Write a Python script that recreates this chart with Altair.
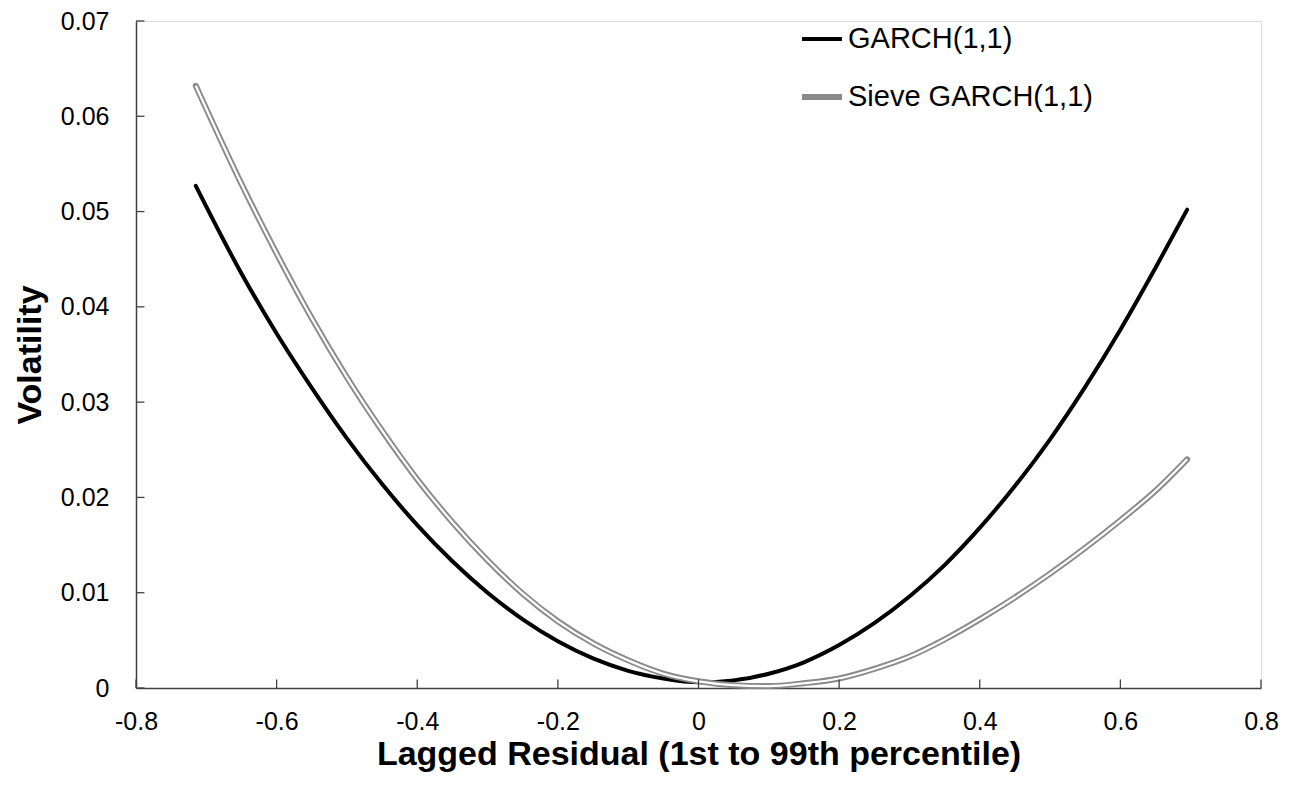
import altair as alt
import pandas as pd

# ---- data ----
x_vals = [-0.715, -0.65, -0.6, -0.55, -0.5, -0.45, -0.4, -0.35, -0.3, -0.25, -0.2, -0.15,
          -0.1, -0.05, 0.0, 0.05, 0.1, 0.15, 0.2, 0.25, 0.3, 0.35, 0.4, 0.45, 0.5, 0.55,
          0.6, 0.65, 0.695]
garch = [0.0527, 0.0435, 0.0372, 0.0315, 0.0262, 0.0214, 0.0171, 0.0133, 0.0100, 0.0072,
         0.0049, 0.0031, 0.0018, 0.0010, 0.0006, 0.0008, 0.0015, 0.0027, 0.0045, 0.0068,
         0.0096, 0.0129, 0.0168, 0.0212, 0.0261, 0.0316, 0.0376, 0.0441, 0.0502]
sieve = [0.0632, 0.0529, 0.0456, 0.0388, 0.0326, 0.0270, 0.0219, 0.0174, 0.0134, 0.0099,
         0.0070, 0.0047, 0.0029, 0.0015, 0.0007, 0.0003, 0.0002, 0.0005, 0.0010, 0.0020,
         0.0033, 0.0051, 0.0072, 0.0095, 0.0120, 0.0147, 0.0176, 0.0207, 0.0240]
series_names = ["GARCH(1,1)", "Sieve GARCH(1,1)"]
x_ticks = [-0.8, -0.6, -0.4, -0.2, 0.0, 0.2, 0.4, 0.6, 0.8]
y_ticks = [0.0, 0.01, 0.02, 0.03, 0.04, 0.05, 0.06, 0.07]

df = pd.DataFrame({
    "x": x_vals * 2,
    "y": garch + sieve,
    "series": [series_names[0]] * len(x_vals) + [series_names[1]] * len(x_vals),
})
df_sieve = df[df["series"] == series_names[1]]

FONT = "Liberation Sans"
AXIS_COLOR = "#404040"

xscale = alt.Scale(domain=[-0.8, 0.8], nice=False, zero=False)
yscale = alt.Scale(domain=[0, 0.07], nice=False)

x_enc = alt.X(
    "x:Q", scale=xscale,
    axis=alt.Axis(
        title="Lagged Residual (1st to 99th percentile)",
        values=x_ticks, ticks=False, grid=False,
        labelExpr="replace(format(datum.value, '.1~f'), '\u2212', '-')",
        labelFont=FONT, labelFontSize=25, labelColor="black", labelPadding=21,
        titleFont=FONT, titleFontSize=34, titleFontWeight="bold", titleColor="black",
        titlePadding=3, domainColor=AXIS_COLOR, domainWidth=1.5, labelFlush=False,
    ),
)
y_enc = alt.Y(
    "y:Q", scale=yscale,
    axis=alt.Axis(
        title="Volatility",
        values=y_ticks, ticks=False, grid=False, format=".2~f",
        labelFont=FONT, labelFontSize=25, labelColor="black", labelPadding=27,
        titleFont=FONT, titleFontSize=34, titleFontWeight="bold", titleColor="black",
        titlePadding=13, domainColor=AXIS_COLOR, domainWidth=1.5, labelFlush=False,
    ),
)

lines = alt.Chart(df).mark_line(interpolate="monotone", strokeCap="round").encode(
    x=x_enc,
    y=y_enc,
    color=alt.Color(
        "series:N",
        scale=alt.Scale(domain=series_names, range=["black", "#8a8a8a"]),
        legend=alt.Legend(
            title=None, orient="none", legendX=663, legendY=-4,
            symbolType="stroke", symbolSize=1600, symbolStrokeWidth=4,
            labelFont=FONT, labelFontSize=29, labelColor="black", labelLimit=0,
            labelOffset=3, rowPadding=20, padding=0,
        ),
    ),
    strokeWidth=alt.StrokeWidth(
        "series:N", scale=alt.Scale(domain=series_names, range=[4, 6]), legend=None
    ),
    order=alt.Order("x:Q"),
)

inner = alt.Chart(df_sieve).mark_line(
    color="white", strokeWidth=2.2, interpolate="monotone"
).encode(x="x:Q", y="y:Q", order=alt.Order("x:Q"))

xt = pd.DataFrame({"x": x_ticks, "y0": [0.0] * len(x_ticks), "y1": [0.0009] * len(x_ticks)})
x_tick_marks = alt.Chart(xt).mark_rule(color=AXIS_COLOR, strokeWidth=1.3).encode(
    x="x:Q", y="y0:Q", y2="y1:Q"
)
yt = pd.DataFrame({"y": y_ticks, "x0": [-0.8] * len(y_ticks), "x1": [-0.788] * len(y_ticks)})
y_tick_marks = alt.Chart(yt).mark_rule(color=AXIS_COLOR, strokeWidth=1.3).encode(
    y="y:Q", x="x0:Q", x2="x1:Q"
)

chart = alt.layer(lines, inner, x_tick_marks, y_tick_marks).properties(
    width=1125, height=667,
    autosize=alt.AutoSizeParams(type="none"),
    padding={"left": 128, "top": 13, "right": 22, "bottom": 90},
).configure_view(
    stroke="#a6a6a6", strokeWidth=1.5
).configure(background="white")

chart.save("out.html", embed_options={"renderer": "svg", "actions": False})
